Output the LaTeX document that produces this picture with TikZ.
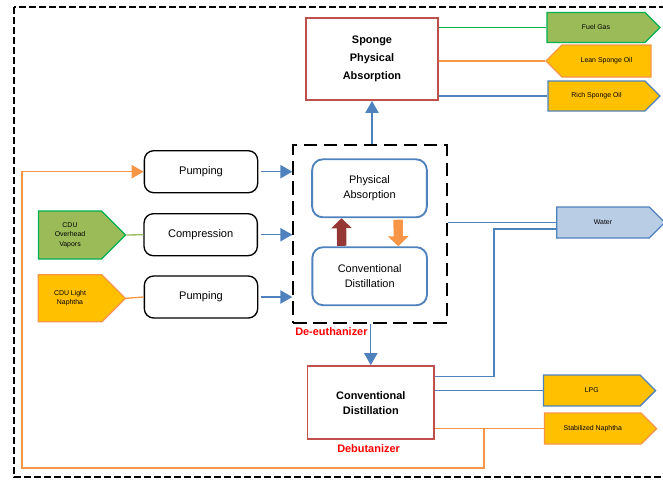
\documentclass[tikz,border=0pt]{standalone}
\usepackage{fontspec}
\setmainfont{Liberation Sans}
\usetikzlibrary{calc,positioning,shapes.symbols,arrows.meta}
\definecolor{pblue}{HTML}{4F81BD}
\definecolor{pred}{HTML}{C0504D}
\definecolor{pgreen}{HTML}{00B050}
\definecolor{pgreenfill}{HTML}{9BBB59}
\definecolor{porange}{HTML}{F79646}
\definecolor{pyellow}{HTML}{FFC000}
\definecolor{pwater}{HTML}{B9CDE5}
\definecolor{pbrown}{HTML}{953735}

\begin{document}
\begin{tikzpicture}[x=0.75pt,y=-0.75pt,
    proc/.style={draw,line width=1pt,rounded corners=7pt,minimum width=85pt,minimum height=31.5pt,font=\fontsize{8.3}{10}\selectfont},
    unit/.style={draw=pblue,line width=1.4pt,rounded corners=8pt,minimum width=86pt,minimum height=43.5pt,align=center,font=\fontsize{8.2}{11}\selectfont},
    col/.style={draw=pred,line width=1.4pt,align=center,font=\fontsize{8.2}{11.2}\selectfont\bfseries},
    strm/.style={signal,signal pointer angle=90,line width=1pt,align=center,inner sep=1pt,font=\fontsize{5.2}{7}\selectfont},
    tag/.style={text=red,font=\fontsize{8.2}{10}\selectfont\bfseries,inner sep=0pt},
    flow/.style={pblue,line width=1pt,-{Triangle[length=9pt,width=10pt]}},
    pipe/.style={line width=1pt},
    block/.style={line width=7pt,-{Triangle[length=7.5pt,width=15pt]}}]
    \useasboundingbox (0,0) rectangle (663,479);
    \clip (0,0) rectangle (663,479);
    \draw[line width=1.5pt,dash pattern=on 5pt off 2.5pt] (14,7) rectangle (675,477);
    % columns
    \node[col,minimum width=99pt,minimum height=61.5pt,font=\fontsize{8.2}{13.4}\selectfont\bfseries] (sponge) at (372,59) {Sponge\\Physical\\Absorption};
    \node[draw,line width=1.5pt,dash pattern=on 10pt off 5pt,minimum width=115pt,minimum height=133pt,inner sep=0pt] (deeth) at (370,234) {};
    \node[unit] (absb) at (369.5,188.3) {Physical\\Absorption};
    \node[unit] (conv) at (369.7,276.2) {Conventional\\Distillation};
    \node[col,minimum width=95pt,minimum height=55pt] (debut) at (370.8,402.7) {Conventional\\Distillation};
    \node[tag,anchor=west] (deetag) at (295,331.5) {De-euthanizer};
    \node[tag,anchor=west] (debtag) at (337,449) {Debutanizer};
    % feed handling
    \node[proc] (pump1) at (201,171.7) {Pumping};
    \node[proc] (comp) at (200.7,234.7) {Compression};
    \node[proc] (pump2) at (201,297) {Pumping};
    % streams
    \node[strm,signal to=east,draw=pgreen,fill=pgreenfill,minimum width=65.25pt,minimum height=36pt] (cduov) at (70,235) {CDU\\Overhead\\Vapors};
    \node[strm,signal to=east,draw=porange,fill=pyellow,minimum width=65.25pt,minimum height=35.25pt] (cduln) at (70,298.3) {CDU Light\\Naphtha};
    \node[strm,signal to=east,draw=pgreen,fill=pgreenfill,minimum width=84.75pt,minimum height=22.5pt] (fuel) at (596,27.5) {Fuel Gas};
    \node[strm,signal to=west,draw=porange,fill=pyellow,minimum width=78.75pt,minimum height=24pt] (lean) at (606.5,61) {Lean Sponge Oil};
    \node[strm,signal to=east,draw=pblue,fill=pyellow,minimum width=84pt,minimum height=22.5pt] (rich) at (596.5,96) {Rich Sponge Oil};
    \node[strm,signal to=east,draw=pblue,fill=pwater,minimum width=81pt,minimum height=23.25pt] (water) at (603,222.5) {Water};
    \node[strm,signal to=east,draw=pblue,fill=pyellow,minimum width=84pt,minimum height=23.25pt] (lpg) at (591.8,390.5) {LPG};
    \node[strm,signal to=east,draw=porange,fill=pyellow,minimum width=84pt,minimum height=23.25pt] (stab) at (592.8,428.5) {Stabilized Naphtha};
    % connections
    \draw[pipe,pgreen] (sponge.east |- fuel.west) -- (fuel.west);
    \draw[pipe,porange] (sponge.east |- lean.west) -- (lean.west);
    \draw[pipe,pblue] (sponge.east |- rich.west) -- (rich.west);
    \draw[flow] (sponge.south |- deeth.north) -- (sponge.south);
    \draw[flow] (debut.north |- deeth.south) -- (debut.north);
    \draw[flow,shorten <=2pt] (pump1.east) -- (pump1.east -| deeth.west);
    \draw[flow,shorten <=2pt] (comp.east) -- (comp.east -| deeth.west);
    \draw[flow,shorten <=2pt] (pump2.east) -- (pump2.east -| deeth.west);
    \draw[pipe,pgreenfill] (cduov.east) -- (comp.west);
    \draw[pipe,porange] (cduln.east) -- (pump2.west);
    \draw[block,pbrown] ($(conv.north)+(-28,-0.5)$) -- ($(absb.south)+(-28,0)$);
    \draw[block,porange] ($(absb.south)+(28.6,1.5)$) -- ($(conv.north)+(28.6,0)$);
    \draw[pipe,pblue] (deeth.east |- water.west) -- (water.west);
    \draw[pipe,pblue] ($(debut.east)+(0,-26)$) -| ($(water.west)+(-62,6.5)$) -- ($(water.west)+(0,6.5)$);
    \draw[pipe,pblue] (debut.east |- lpg.west) -- (lpg.west);
    \draw[pipe,porange] (debut.east |- stab.west) -- (stab.west);
    % naphtha recycle
    \coordinate (split) at (484,428.5);
    \coordinate (loopcorner) at (22,468);
    \draw[pipe,porange,-{Triangle[length=9pt,width=10pt]}] (split) |- (loopcorner) |- (pump1.west);
\end{tikzpicture}
\end{document}
